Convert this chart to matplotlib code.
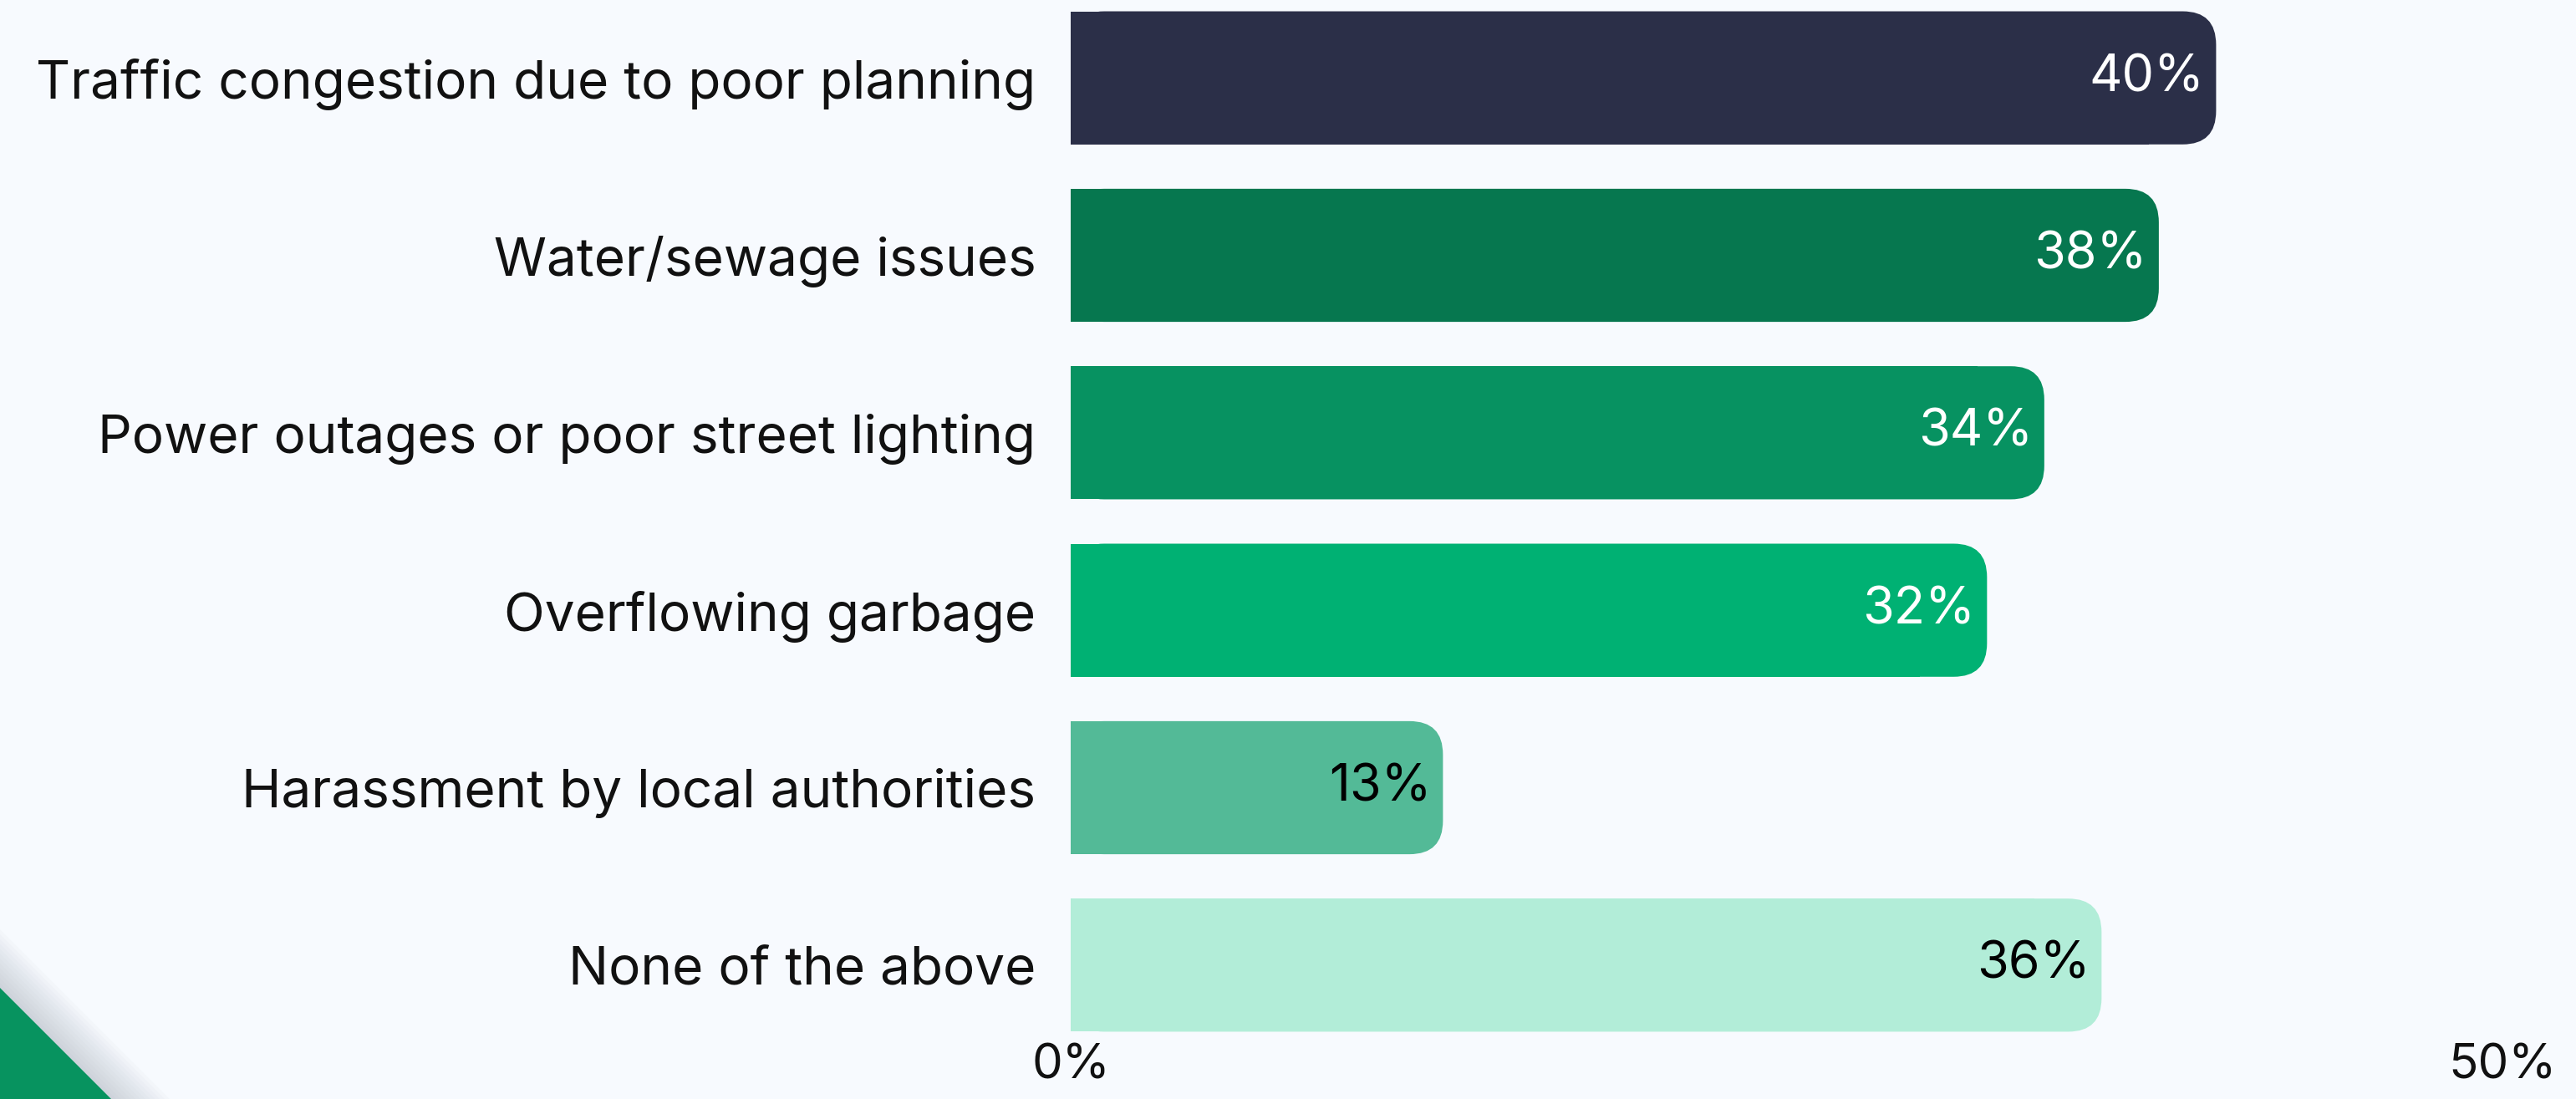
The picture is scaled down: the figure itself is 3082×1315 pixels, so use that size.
import matplotlib
matplotlib.use("Agg")
import matplotlib.pyplot as plt
from matplotlib.patches import FancyBboxPatch, Rectangle, Polygon

# ----------------------------------------------------------------------
# Data
# ----------------------------------------------------------------------
categories = [
    "Traffic congestion due to poor planning",
    "Water/sewage issues",
    "Power outages or poor street lighting",
    "Overflowing garbage",
    "Harassment by local authorities",
    "None of the above",
]
values = [40, 38, 34, 32, 13, 36]
bar_colors = ["#2B2F48", "#06774F", "#079261", "#00B173", "#53BA97", "#B2EDD8"]
label_colors = ["white", "white", "white", "white", "black", "black"]
tick_values = [0, 50]
tick_labels = ["0%", "50%"]

# ----------------------------------------------------------------------
# Figure
# ----------------------------------------------------------------------
plt.rcParams["font.family"] = ["Inter", "DejaVu Sans"]
bg = "#F7FAFE"
W, H, DPI = 3082, 1315, 100
fig = plt.figure(figsize=(W / DPI, H / DPI), dpi=DPI, facecolor=bg)

# decorative corner triangle with a soft shadow band
corner = fig.add_axes([0, 0, 1, 1], zorder=0)
corner.set_xlim(0, W)
corner.set_ylim(H, 0)
corner.axis("off")
for k in range(12):
    off = 70 * (k + 1) / 12
    corner.add_patch(Polygon([(0, 1182 - off), (133 + off, H), (0, H)],
                             closed=True, color="#8E9AA8", alpha=0.035, lw=0))
corner.add_patch(Polygon([(0, 1182), (133, H), (0, H)], closed=True,
                         color="#07935F", lw=0))

ax_left, ax_right = 1281 / W, 2994 / W
ax_bottom = (H - 1261) / H
ax = fig.add_axes([ax_left, ax_bottom, ax_right - ax_left, 1 - ax_bottom], zorder=1)
ax.set_facecolor("none")

y_pos = list(range(len(categories)))
bar_h = 0.75
bars = ax.barh(y_pos, values, height=bar_h, color=bar_colors)
ax.set_xlim(0, 50)
ax.set_ylim(5.5, -0.4387)

# swap plain bars for ones with rounded right ends
px_per_x = (2994 - 1281) / 50
px_per_y = 212
radius_px = 40
r = radius_px / px_per_x
aspect = px_per_x / px_per_y
for b, c in zip(bars, bar_colors):
    x0, y0, w, h = b.get_x(), b.get_y(), b.get_width(), b.get_height()
    b.remove()
    ax.add_patch(FancyBboxPatch((x0, y0), w, h,
                                boxstyle=f"round,pad=0,rounding_size={r}",
                                mutation_aspect=aspect, fc=c, ec="none", lw=0))
    ax.add_patch(Rectangle((x0, y0), w - 2 * r, h, fc=c, ec="none", lw=0))

for y, v, tc in zip(y_pos, values, label_colors):
    ax.text(v - 14 / px_per_x, y, f"{v}%", ha="right", va="center",
            fontsize=44, color=tc)

ax.set_yticks(y_pos)
ax.set_yticklabels(categories, fontsize=46, color="#111111")
ax.set_xticks(tick_values)
ax.set_xticklabels(tick_labels, fontsize=42, color="#111111")
ax.tick_params(axis="both", length=0)
ax.tick_params(axis="y", pad=30)
ax.tick_params(axis="x", pad=-9)
for s in ax.spines.values():
    s.set_visible(False)

fig.savefig("out.png", dpi=DPI, facecolor=bg)
